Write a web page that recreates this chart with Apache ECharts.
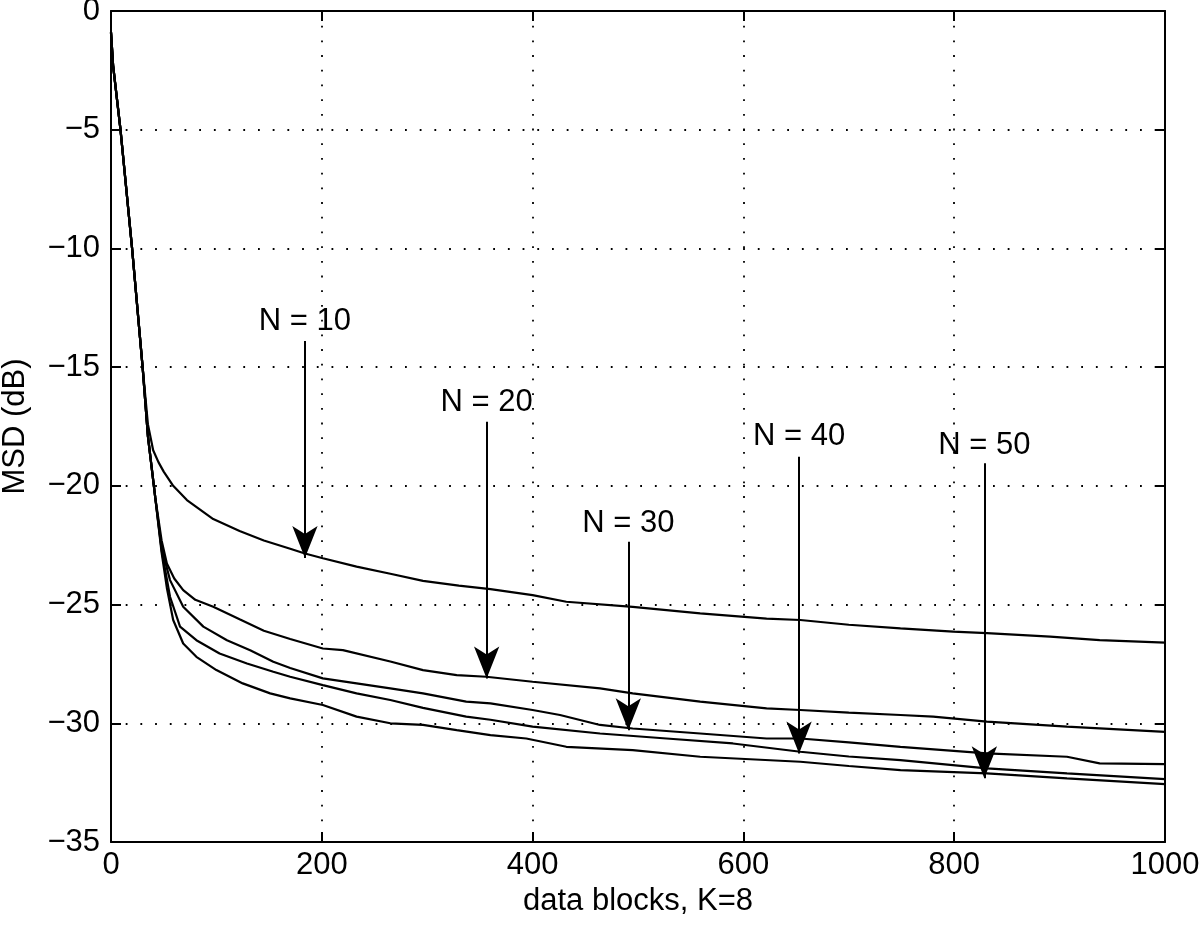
<!DOCTYPE html>
<html>
<head>
<meta charset="utf-8">
<script src="https://cdn.jsdelivr.net/npm/echarts@6/dist/echarts.min.js"></script>
<style>
html,body{margin:0;padding:0;background:#fff;}
#chart{width:1200px;height:935px;}
</style>
</head>
<body>
<div id="chart"></div>
<script>
// ---- data ----
const xTicks = [0, 200, 400, 600, 800, 1000];
const yTicks = [0, -5, -10, -15, -20, -25, -30, -35];

const curveN10 = [[0,-0.9],[2,-2.3],[9,-5],[20,-10],[30,-15],[35,-17.4],[40,-18.5],[45,-19.0],[50,-19.4],[59,-20.0],[72,-20.6],[97,-21.4],[122,-21.9],[145,-22.3],[170,-22.65],[184,-22.85],[201,-23.05],[233,-23.4],[265,-23.7],[296,-24.0],[330,-24.2],[360,-24.35],[400,-24.6],[432,-24.88],[495,-25.1],[559,-25.37],[622,-25.59],[654,-25.65],[700,-25.85],[749,-26.0],[799,-26.14],[831,-26.2],[891,-26.35],[938,-26.5],[1000,-26.6]];

const curveN20 = [[0,-0.9],[2,-2.3],[9,-5],[20,-10],[30,-15],[35,-17.9],[42,-20.5],[48,-22.3],[53,-23.27],[60,-23.9],[68.5,-24.39],[80,-24.8],[97,-25.09],[122,-25.62],[145,-26.1],[170,-26.45],[201,-26.85],[220,-26.92],[265,-27.4],[296,-27.76],[328,-27.97],[356,-28.04],[400,-28.25],[464,-28.53],[495,-28.74],[559,-29.09],[622,-29.37],[654,-29.44],[700,-29.55],[749,-29.65],[780,-29.72],[831,-29.93],[907,-30.14],[1000,-30.36]];

const curveN30 = [[0,-0.9],[2,-2.3],[9,-5],[20,-10],[30,-15],[35,-17.9],[42,-20.5],[48,-22.6],[56,-23.97],[68.5,-25.09],[87.6,-25.93],[110,-26.5],[132,-26.92],[154,-27.41],[170,-27.67],[201,-28.11],[233,-28.32],[265,-28.53],[296,-28.74],[337,-29.09],[360,-29.16],[400,-29.44],[426,-29.65],[464,-30.07],[495,-30.22],[559,-30.43],[622,-30.64],[654,-30.64],[700,-30.8],[749,-30.99],[831,-31.27],[907,-31.41],[938,-31.69],[1000,-31.72]];

const curveN40 = [[0,-0.9],[2,-2.3],[9,-5],[20,-10],[30,-15],[35,-17.9],[42,-20.5],[48,-22.7],[56,-24.67],[65.5,-25.93],[81,-26.5],[103,-27.06],[129,-27.48],[154,-27.83],[170,-28.04],[201,-28.39],[233,-28.74],[265,-29.02],[296,-29.35],[337,-29.72],[360,-29.85],[400,-30.14],[464,-30.43],[527,-30.64],[590,-30.85],[654,-31.2],[700,-31.4],[749,-31.55],[831,-31.9],[907,-32.11],[1000,-32.35]];

const curveN50 = [[0,-0.9],[2,-2.3],[9,-5],[20,-10],[30,-15],[35,-17.9],[42,-20.5],[48,-22.8],[53,-24.3],[59,-25.65],[68.5,-26.64],[81,-27.2],[100,-27.76],[125,-28.32],[151,-28.74],[170,-28.95],[201,-29.23],[233,-29.72],[265,-30.0],[296,-30.07],[328,-30.29],[360,-30.5],[394,-30.64],[432,-30.99],[495,-31.13],[559,-31.41],[654,-31.62],[700,-31.8],[749,-31.97],[831,-32.11],[907,-32.32],[1000,-32.56]];

// annotations (data coordinates)
const annotText = ['N = 10', 'N = 20', 'N = 30', 'N = 40', 'N = 50'];
const arrowX    = [184, 356.4, 490.8, 652.8, 828.6];
const arrowTop  = [-13.9, -17.3, -22.35, -18.77, -19.05];
const arrowTip  = [-23.04, -28.11, -30.29, -31.27, -32.32];
const labelY    = [-13.07, -16.5, -21.57, -17.93, -18.28];

// ---- chart ----
const FONT = "'Liberation Sans', Arial, Helvetica, sans-serif";
const FS = 31;
const chart = echarts.init(document.getElementById('chart'), null, {renderer: 'canvas'});

const fmtMinus = v => String(v).replace('-', '\u2212');
const gridDots = {show: true, lineStyle: {color: '#000', width: 1.8, type: [1.8, 12.9]}};

const curveSeries = [curveN10, curveN20, curveN30, curveN40, curveN50].map((d, i) => ({
  name: annotText[i],
  type: 'line',
  data: d,
  showSymbol: false,
  symbol: 'none',
  smooth: false,
  lineStyle: {color: '#000', width: 2.2},
  z: 3,
  animation: false
}));

// arrow stems
const stemSeries = {
  type: 'line',
  data: [],
  animation: false,
  markLine: {
    silent: true,
    animation: false,
    symbol: ['none', 'none'],
    lineStyle: {color: '#000', width: 2, type: 'solid'},
    label: {show: false},
    emphasis: {disabled: true},
    data: arrowX.map((x, i) => [
      {coord: [x, arrowTop[i]]},
      {coord: [x, arrowTip[i]]}
    ])
  },
  z: 4
};

// arrow heads
const headSeries = {
  type: 'scatter',
  data: arrowX.map((x, i) => [x, arrowTip[i]]),
  symbol: 'arrow',
  symbolSize: [19, 32],
  symbolRotate: 180,
  itemStyle: {color: '#000', opacity: 1},
  emphasis: {disabled: true},
  silent: true,
  animation: false,
  z: 5
};

const labelSeries = {
  type: 'scatter',
  symbolSize: 0,
  data: arrowX.map((x, i) => ({value: [x, labelY[i]], name: annotText[i]})),
  itemStyle: {opacity: 1, color: '#000'},
  label: {
    show: true,
    position: 'inside',
    formatter: p => p.name,
    color: '#000',
    fontFamily: FONT,
    fontSize: FS
  },
  emphasis: {disabled: true},
  silent: true,
  animation: false,
  z: 6
};

chart.setOption({
  backgroundColor: '#fff',
  animation: false,
  grid: {left: 111, right: 35, top: 11, bottom: 93, containLabel: false, outerBoundsMode: 'none'},
  xAxis: [{
    type: 'value', min: 0, max: 1000, interval: 200,
    name: 'data blocks, K=8', nameLocation: 'middle', nameGap: 42,
    nameTextStyle: {color: '#000', fontFamily: FONT, fontSize: FS},
    axisLine: {show: true, onZero: false, lineStyle: {color: '#000', width: 2}},
    axisTick: {show: true, inside: true, length: 10, lineStyle: {color: '#000', width: 2}},
    axisLabel: {color: '#000', fontFamily: FONT, fontSize: FS, margin: 8, formatter: v => String(v)},
    splitLine: gridDots
  }, {
    type: 'value', min: 0, max: 1000, interval: 200, position: 'top',
    axisLine: {show: true, onZero: false, lineStyle: {color: '#000', width: 2}},
    axisTick: {show: true, inside: true, length: 10, lineStyle: {color: '#000', width: 2}},
    axisLabel: {show: false},
    splitLine: {show: false}
  }],
  yAxis: [{
    type: 'value', min: -35, max: 0, interval: 5,
    name: 'MSD (dB)', nameLocation: 'middle', nameGap: 80,
    nameTextStyle: {color: '#000', fontFamily: FONT, fontSize: FS},
    axisLine: {show: true, onZero: false, lineStyle: {color: '#000', width: 2}},
    axisTick: {show: true, inside: true, length: 10, lineStyle: {color: '#000', width: 2}},
    axisLabel: {color: '#000', fontFamily: FONT, fontSize: FS, margin: 11, formatter: fmtMinus},
    splitLine: gridDots
  }, {
    type: 'value', min: -35, max: 0, interval: 5, position: 'right',
    axisLine: {show: true, onZero: false, lineStyle: {color: '#000', width: 2}},
    axisTick: {show: true, inside: true, length: 10, lineStyle: {color: '#000', width: 2}},
    axisLabel: {show: false},
    splitLine: {show: false}
  }],
  series: curveSeries.concat([stemSeries, headSeries, labelSeries])
});
</script>
</body>
</html>
